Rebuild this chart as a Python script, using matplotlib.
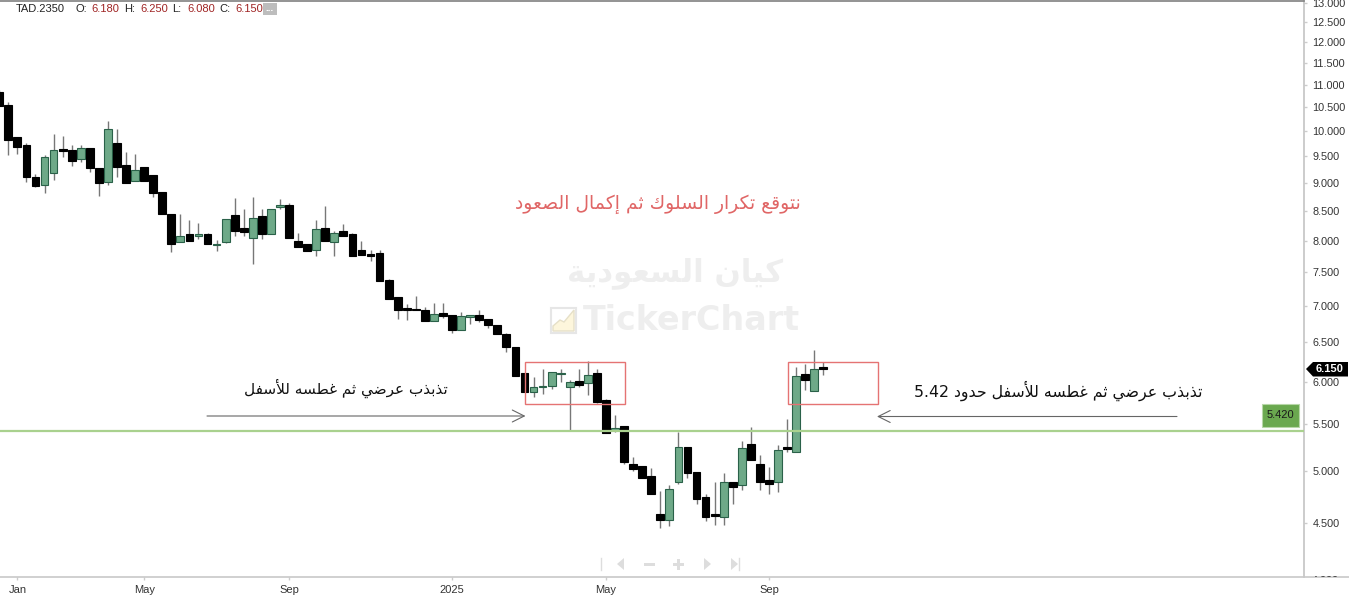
import unicodedata
import matplotlib
matplotlib.use('Agg')
import matplotlib.pyplot as plt
from matplotlib.patches import Rectangle, Polygon
from matplotlib.transforms import Bbox

plt.rcParams['font.family'] = ['Liberation Sans', 'DejaVu Sans']

# weekly candles
opens = [10.84, 10.54, 9.88, 9.73, 9.11, 8.96, 9.19, 9.64, 9.63, 9.44,
         9.67, 9.28, 9.01, 9.76, 9.33, 9.03, 9.29, 9.14, 8.84, 8.44,
         7.98, 8.10, 8.08, 8.10, 7.93, 7.97, 8.43, 8.20, 8.04, 8.42,
         8.11, 8.57, 8.60, 7.99, 7.95, 7.85, 8.21, 7.97, 8.15, 8.10,
         7.85, 7.78, 7.80, 7.38, 7.13, 6.97, 6.96, 6.95, 6.79, 6.90,
         6.88, 6.66, 6.85, 6.87, 6.82, 6.74, 6.61, 6.44, 6.11, 5.87,
         5.93, 5.95, 6.09, 5.93, 6.01, 5.98, 6.11, 5.78, 5.44, 5.48,
         5.07, 5.05, 4.95, 4.58, 4.52, 4.89, 5.25, 4.99, 4.74, 4.58,
         4.55, 4.89, 4.86, 5.28, 5.07, 4.91, 4.89, 5.25, 5.20, 6.09,
         5.89, 6.18]
closes = [10.53, 9.83, 9.68, 9.10, 8.95, 9.49, 9.63, 9.61, 9.42, 9.66,
          9.28, 8.99, 10.04, 9.29, 8.99, 9.23, 9.04, 8.82, 8.44, 7.95,
          8.08, 7.99, 8.11, 7.95, 7.95, 8.36, 8.16, 8.14, 8.38, 8.10,
          8.54, 8.60, 8.04, 7.90, 7.83, 8.19, 8.00, 8.12, 8.08, 7.75,
          7.77, 7.76, 7.37, 7.10, 6.94, 6.95, 6.95, 6.79, 6.89, 6.86,
          6.66, 6.86, 6.87, 6.81, 6.74, 6.61, 6.44, 6.07, 5.87, 5.93,
          5.95, 6.12, 6.11, 6.00, 5.96, 6.08, 5.76, 5.40, 5.46, 5.09,
          5.02, 4.93, 4.77, 4.52, 4.82, 5.25, 4.98, 4.72, 4.55, 4.56,
          4.89, 4.84, 5.24, 5.11, 4.89, 4.87, 5.22, 5.23, 6.07, 6.02,
          6.16, 6.15]
highs = [10.88, 10.62, 9.89, 9.76, 9.17, 9.53, 9.94, 9.91, 9.73, 9.73,
         9.67, 9.28, 10.22, 10.04, 9.58, 9.54, 9.29, 9.14, 8.84, 8.44,
         8.45, 8.34, 8.29, 8.12, 8.01, 8.36, 8.73, 8.53, 8.74, 8.53,
         8.54, 8.71, 8.64, 8.12, 7.95, 8.35, 8.59, 8.15, 8.27, 8.13,
         8.00, 7.85, 7.84, 7.40, 7.13, 7.03, 7.14, 6.98, 7.05, 7.04,
         6.88, 6.91, 6.87, 6.94, 6.82, 6.74, 6.63, 6.44, 6.11, 6.06,
         6.15, 6.12, 6.15, 6.02, 6.15, 6.26, 6.15, 5.79, 5.60, 5.48,
         5.14, 5.05, 5.03, 4.80, 4.86, 5.41, 5.25, 4.99, 4.77, 4.89,
         4.98, 4.89, 5.31, 5.47, 5.16, 5.04, 5.27, 5.56, 6.18, 6.22,
         6.40, 6.25]
lows = [10.53, 9.53, 9.55, 9.02, 8.92, 8.81, 9.06, 9.48, 9.32, 9.40,
        9.20, 8.76, 8.96, 9.11, 8.99, 9.03, 9.04, 8.74, 8.44, 7.82,
        7.97, 7.99, 8.02, 7.95, 7.83, 7.96, 8.08, 8.08, 7.62, 8.03,
        8.11, 8.54, 8.04, 7.90, 7.83, 7.76, 8.00, 7.76, 8.08, 7.75,
        7.77, 7.68, 7.37, 7.10, 6.82, 6.80, 6.95, 6.79, 6.79, 6.83,
        6.63, 6.66, 6.75, 6.77, 6.69, 6.61, 6.37, 6.07, 5.87, 5.82,
        5.85, 5.91, 6.00, 5.44, 5.94, 5.84, 5.74, 5.40, 5.41, 5.07,
        5.00, 4.93, 4.77, 4.45, 4.47, 4.87, 4.93, 4.67, 4.51, 4.48,
        4.48, 4.67, 4.81, 5.11, 4.81, 4.77, 4.79, 5.20, 5.20, 5.90,
        5.88, 6.08]

price_ticks = [4.5, 5.0, 5.5, 6.0, 6.5, 7.0, 7.5, 8.0, 8.5, 9.0, 9.5,
               10.0, 10.5, 11.0, 11.5, 12.0, 12.5, 13.0]
date_labels = ['Jan', 'May', 'Sep', '2025', 'May', 'Sep']
date_candles = [2, 16, 32, 50, 67, 85]
level = 5.42

header = [('TAD.2350', 16, '#222222'), ('O:', 75, '#222222'), ('6.180', 91.5, '#a02525'),
          ('H:', 124, '#222222'), ('6.250', 140, '#a02525'), ('L:', 172.5, '#222222'),
          ('6.080', 187, '#a02525'), ('C:', 219, '#222222'), ('6.150', 235, '#a02525')]

NO_NEXT = 'اأإآدذرزوة'
ALEFS = 'اأإآ'


def is_ar(c):
    return '\u0621' <= c <= '\u064a'


# matplotlib has no arabic shaping, so pick the joined forms and reverse
def shape(txt):
    out = []
    i = 0
    while i < len(txt):
        c = txt[i]
        if not is_ar(c):
            out.append(c)
            i += 1
            continue
        prev_joins = i > 0 and is_ar(txt[i - 1]) and txt[i - 1] not in NO_NEXT
        if c == 'ل' and i + 1 < len(txt) and txt[i + 1] in ALEFS:
            alef = unicodedata.name(txt[i + 1]).replace('ARABIC LETTER ', '')
            form = 'FINAL' if prev_joins else 'ISOLATED'
            out.append(unicodedata.lookup(f'ARABIC LIGATURE LAM WITH {alef} {form} FORM'))
            i += 2
            continue
        next_joins = c not in NO_NEXT and i + 1 < len(txt) and is_ar(txt[i + 1])
        if prev_joins and next_joins:
            form = 'MEDIAL'
        elif prev_joins:
            form = 'FINAL'
        elif next_joins:
            form = 'INITIAL'
        else:
            form = 'ISOLATED'
        if c == 'ة':
            form = 'FINAL' if prev_joins else 'ISOLATED'
        out.append(unicodedata.lookup(f'{unicodedata.name(c)} {form} FORM'))
        i += 1
    return ''.join(reversed(out))


W, H = 1349, 599
fig = plt.figure(figsize=(W / 100, H / 100), dpi=100, facecolor='white')

# pixel layers under and over the price axes
bg = fig.add_axes([0, 0, 1, 1], zorder=0)
fg = fig.add_axes([0, 0, 1, 1], zorder=2)
for a in (bg, fg):
    a.set_xlim(0, W)
    a.set_ylim(H, 0)
    a.axis('off')
    a.patch.set_alpha(0)

ax = fig.add_axes([0, (H - 577) / H, 1304 / W, 577 / H], zorder=1)
ax.patch.set_alpha(0)
ax.set_yscale('log')

# watermark
bg.text(675, 273, shape('كيان السعودية'), family='DejaVu Sans', weight='bold', fontsize=22.2,
        color='#eeeeee', ha='center', va='center')
bg.text(691.5, 320, 'TickerChart', family='DejaVu Sans', weight='bold', fontsize=24, color='#eeeeee',
        ha='center', va='center')
bg.add_patch(Rectangle((551, 308), 25, 25, fc='none', ec='#e6e6e6', lw=1.5))
bg.add_patch(Polygon([(553, 331), (553, 326), (560, 320), (564, 322), (574, 310), (574, 331)],
                     fc='#fdf6dc', ec='#e6e0c8', lw=1))

# candles
xs = list(range(len(opens)))
ax.vlines(xs, lows, highs, color='#777777', lw=1, zorder=2)
for x, o, c in zip(xs, opens, closes):
    up = c > o
    ax.bar(x, abs(c - o), bottom=min(o, c), width=0.86,
           color='#6ea988' if up else '#000000',
           edgecolor='#2a6149' if up else '#000000', linewidth=0.8, zorder=3)

ax.axhline(level, color='#a9d18e', lw=1.6, zorder=4)

for s in ('top', 'left', 'bottom'):
    ax.spines[s].set_visible(False)
ax.spines['right'].set_color('#c4c4c4')
ax.spines['right'].set_linewidth(1.2)

ax.yaxis.tick_right()
ax.set_yticks(price_ticks)
ax.set_yticklabels([f'{p:.3f}' for p in price_ticks])
ax.minorticks_off()
ax.tick_params(axis='y', which='major', length=2.5, color='#cccccc', width=1, pad=3.5,
               labelsize=7.8, labelcolor='#333333')
ax.set_xticks(date_candles)
ax.set_xticklabels(date_labels)
ax.tick_params(axis='x', length=2.5, color='#cccccc', width=1, pad=3.5,
               labelsize=8, labelcolor='#333333')
# limits go after the ticks, set_yticks widens them otherwise
ax.set_xlim(0.083, 144.08)
ax.set_ylim(4.027, 13.07)

# the 4.000 label sits under the date strip, only its top shows
low_label = fg.text(1312, 580.5, '4.000', fontsize=7.8, color='#333333', ha='left', va='center')
low_label.set_clip_on(True)
low_label.set_clip_path(None)
low_label.set_clip_box(Bbox([[1304, 22], [W, H]]))

# frame lines
fg.plot([0, 1304], [0.5, 0.5], color='#808080', lw=1.2)
fg.plot([0, W], [577, 577], color='#c8c8c8', lw=1.2)

# boxes around the sideways parts
for x0, x1 in [(524.5, 624.5), (787.5, 877.5)]:
    fg.add_patch(Rectangle((x0, 361.5), x1 - x0, 42, fc='none', ec='#e57373', lw=1))

# arrows
fg.annotate('', xy=(525.5, 416), xytext=(207, 416),
            arrowprops=dict(arrowstyle='->,head_length=0.86,head_width=0.43', color='#666666', lw=0.8,
                            shrinkA=0, shrinkB=0, mutation_scale=10))
fg.annotate('', xy=(877, 416.5), xytext=(1177, 416.5),
            arrowprops=dict(arrowstyle='->,head_length=0.86,head_width=0.43', color='#666666', lw=0.8,
                            shrinkA=0, shrinkB=0, mutation_scale=10))

# notes
fg.text(658, 204, shape('نتوقع تكرار السلوك ثم إكمال الصعود'), family='DejaVu Sans', fontsize=13.5,
        color='#e06666', ha='center', va='center')
fg.text(346, 388, shape('تذبذب عرضي ثم غطسه للأسفل'), family='DejaVu Sans', fontsize=11,
        color='#111111', ha='center', va='center')
fg.text(1058, 391, '5.42 ' + shape('تذبذب عرضي ثم غطسه للأسفل حدود'), family='DejaVu Sans', fontsize=11.3,
        color='#111111', ha='center', va='center')

# header line
for txt, x, col in header:
    fg.text(x, 9, txt, fontsize=8, color=col, ha='left', va='center')
fg.add_patch(Rectangle((263, 3), 14, 12, fc='#bdbdbd', ec='none'))
fg.text(270, 8, '...', fontsize=7, weight='bold', color='white', ha='center', va='center')

# price tags
fg.add_patch(Rectangle((1261.5, 404), 37, 22.5, fc='#6aa84f', ec='#b7d7a8', lw=0.8))
fg.text(1280, 415.5, f'{level:.3f}', fontsize=8, color='#1a1a1a', ha='center', va='center')
fg.add_patch(Polygon([(1306, 369), (1313, 362), (1348, 362), (1348, 376.5), (1313, 376.5)],
                     fc='black', ec='none'))
fg.text(1330, 369.5, f'{closes[-1]:.3f}', fontsize=8, weight='bold', color='white', ha='center', va='center')

# navigation icons under the chart
nav = '#dddddd'
fg.plot([600.5, 600.5], [558, 570], color=nav, lw=1)
fg.add_patch(Polygon([(617, 564), (624, 558), (624, 570)], fc=nav, ec='none'))
fg.add_patch(Rectangle((644, 563), 11, 2.5, fc=nav, ec='none'))
fg.add_patch(Rectangle((673, 563), 11, 2.5, fc=nav, ec='none'))
fg.add_patch(Rectangle((677.2, 559), 2.5, 11, fc=nav, ec='none'))
fg.add_patch(Polygon([(704, 558), (711, 564), (704, 570)], fc=nav, ec='none'))
fg.add_patch(Polygon([(731, 558), (738, 564), (731, 570)], fc=nav, ec='none'))
fg.plot([739, 739], [558, 570], color=nav, lw=1)

fig.savefig('out.png', dpi=100)
